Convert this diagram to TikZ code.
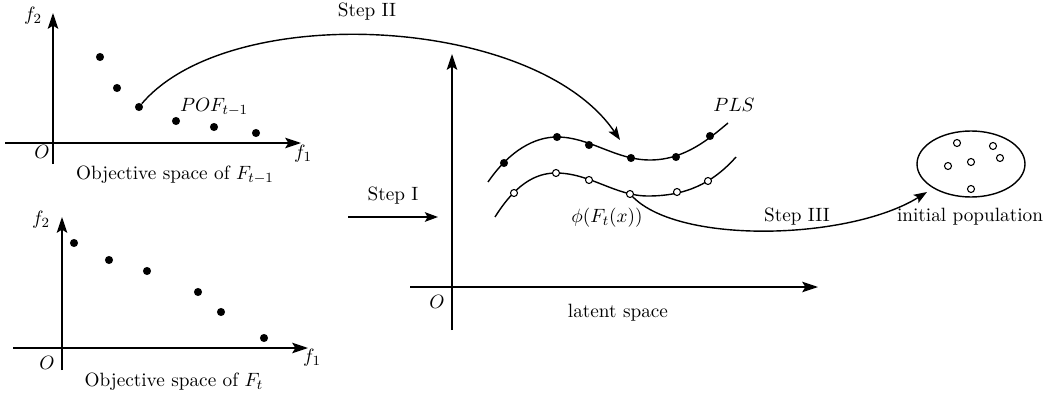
\documentclass[11pt,tikz,border=0pt]{standalone}
\usetikzlibrary{arrows.meta,shapes.geometric}

\begin{document}
\begin{tikzpicture}[x=0.02cm,y=-0.02cm,
    axis/.style={line width=0.8pt,-{Stealth[length=9pt,width=6pt,inset=1.8pt]}},
    steparrow/.style={line width=0.8pt,-{Stealth[length=7.5pt,width=5.5pt,inset=1.6pt]}},
    pls/.style={line width=0.8pt},
    sol/.style={circle,fill=black,inner sep=0pt,minimum size=4.6pt},
    cand/.style={circle,draw=black,line width=0.6pt,fill=white,inner sep=0pt,minimum size=4pt}]
  \useasboundingbox (0,0) rectangle (1045,399);

  % objective space of F_{t-1}: the old front, one of its points feeds Step II
  \coordinate (aw) at (5,143);   \coordinate (ae) at (301,143);
  \coordinate (as) at (53,164);  \coordinate (an) at (53,13);
  \draw[axis] (aw) -- (ae);
  \draw[axis] (as) -- (an);
  \node (af2) at (33,16) {$f_2$};
  \node (af1) at (303,154) {$f_1$};
  \node (ao) at (42,152) {$O$};
  \node[sol] (pa1) at (100,57) {};
  \node[sol] (pa2) at (117,88) {};
  \node[sol] (pa3) at (139,107) {};
  \node[sol] (pa4) at (176,121) {};
  \node[sol] (pa5) at (214,127) {};
  \node[sol] (pa6) at (256,133) {};
  \node (pofa) at (214,107) {$POF_{t-1}$};
  \node (capa) at (175,175) {Objective space of $F_{t-1}$};

  % objective space of F_t
  \coordinate (bw) at (13,348);  \coordinate (be) at (308,348);
  \coordinate (bs) at (62,370);  \coordinate (bn) at (62,217);
  \draw[axis] (bw) -- (be);
  \draw[axis] (bs) -- (bn);
  \node (bf2) at (41,220) {$f_2$};
  \node (bf1) at (312,358) {$f_1$};
  \node (bo) at (47,363) {$O$};
  \node[sol] (pb1) at (74,243) {};
  \node[sol] (pb2) at (109,260) {};
  \node[sol] (pb3) at (147,271) {};
  \node[sol] (pb4) at (198,292) {};
  \node[sol] (pb5) at (221,312) {};
  \node[sol] (pb6) at (264,338) {};
  \node (capb) at (174,382) {Objective space of $F_t$};

  % Step I
  \coordinate (s1w) at (348,217); \coordinate (s1e) at (438,217);
  \draw[steparrow] (s1w) -- (s1e);
  \node (s1) at (393,196) {Step I};

  % latent space, two predicted curves
  \coordinate (lw) at (410,287); \coordinate (le) at (818,287);
  \coordinate (ls) at (452,330); \coordinate (ln) at (452,54);
  \draw[axis] (lw) -- (le);
  \draw[axis] (ls) -- (ln);
  \node (lo) at (437,302) {$O$};
  \node (lcap) at (618,313) {latent space};

  \draw[pls] (488,182) .. controls (510,150) and (535,137) .. (557,137)
    .. controls (590,137) and (615,160) .. (650,160)
    .. controls (685,160) and (710,138) .. (728,123);
  \node[sol] (u1) at (504,163) {};
  \node[sol] (u2) at (557,137) {};
  \node[sol] (u3) at (589,145) {};
  \node[sol] (u4) at (631,158) {};
  \node[sol] (u5) at (676,157) {};
  \node[sol] (u6) at (710,136) {};
  \node (plsl) at (734,105) {$PLS$};

  \draw[pls] (495,217) .. controls (515,185) and (535,173) .. (556,173)
    .. controls (590,173) and (615,196) .. (648,196)
    .. controls (685,196) and (712,184) .. (736,157);
  \node[cand] (v1) at (514,193) {};
  \node[cand] (v2) at (556,173) {};
  \node[cand] (v3) at (589,180) {};
  \node[cand] (v4) at (630,194) {};
  \node[cand] (v5) at (677,192) {};
  \node[cand] (v6) at (708,181) {};
  \node (phil) at (607,218) {$\phi(F_t(x))$};

  % Step II
  \coordinate (s2e) at (620,140);
  \draw[steparrow] (pa3) .. controls (230,0) and (535,15) .. (s2e);
  \node (s2) at (367,12) {Step II};

  % initial population
  \node[ellipse,draw,line width=0.8pt,inner sep=0pt,
        minimum width=2.16cm,minimum height=1.32cm] (pop) at (971,164) {};
  \node[cand] (w1) at (957,143) {};
  \node[cand] (w2) at (993,146) {};
  \node[cand] (w3) at (1000,158) {};
  \node[cand] (w4) at (971,162) {};
  \node[cand] (w5) at (948,166) {};
  \node[cand] (w6) at (971,189) {};
  \node (popl) at (970,217) {initial population};

  % Step III
  \coordinate (s3e) at (927,192);
  \draw[steparrow] (v4) .. controls (680,245) and (850,240) .. (s3e);
  \node (s3) at (797,217) {Step III};
\end{tikzpicture}
\end{document}
